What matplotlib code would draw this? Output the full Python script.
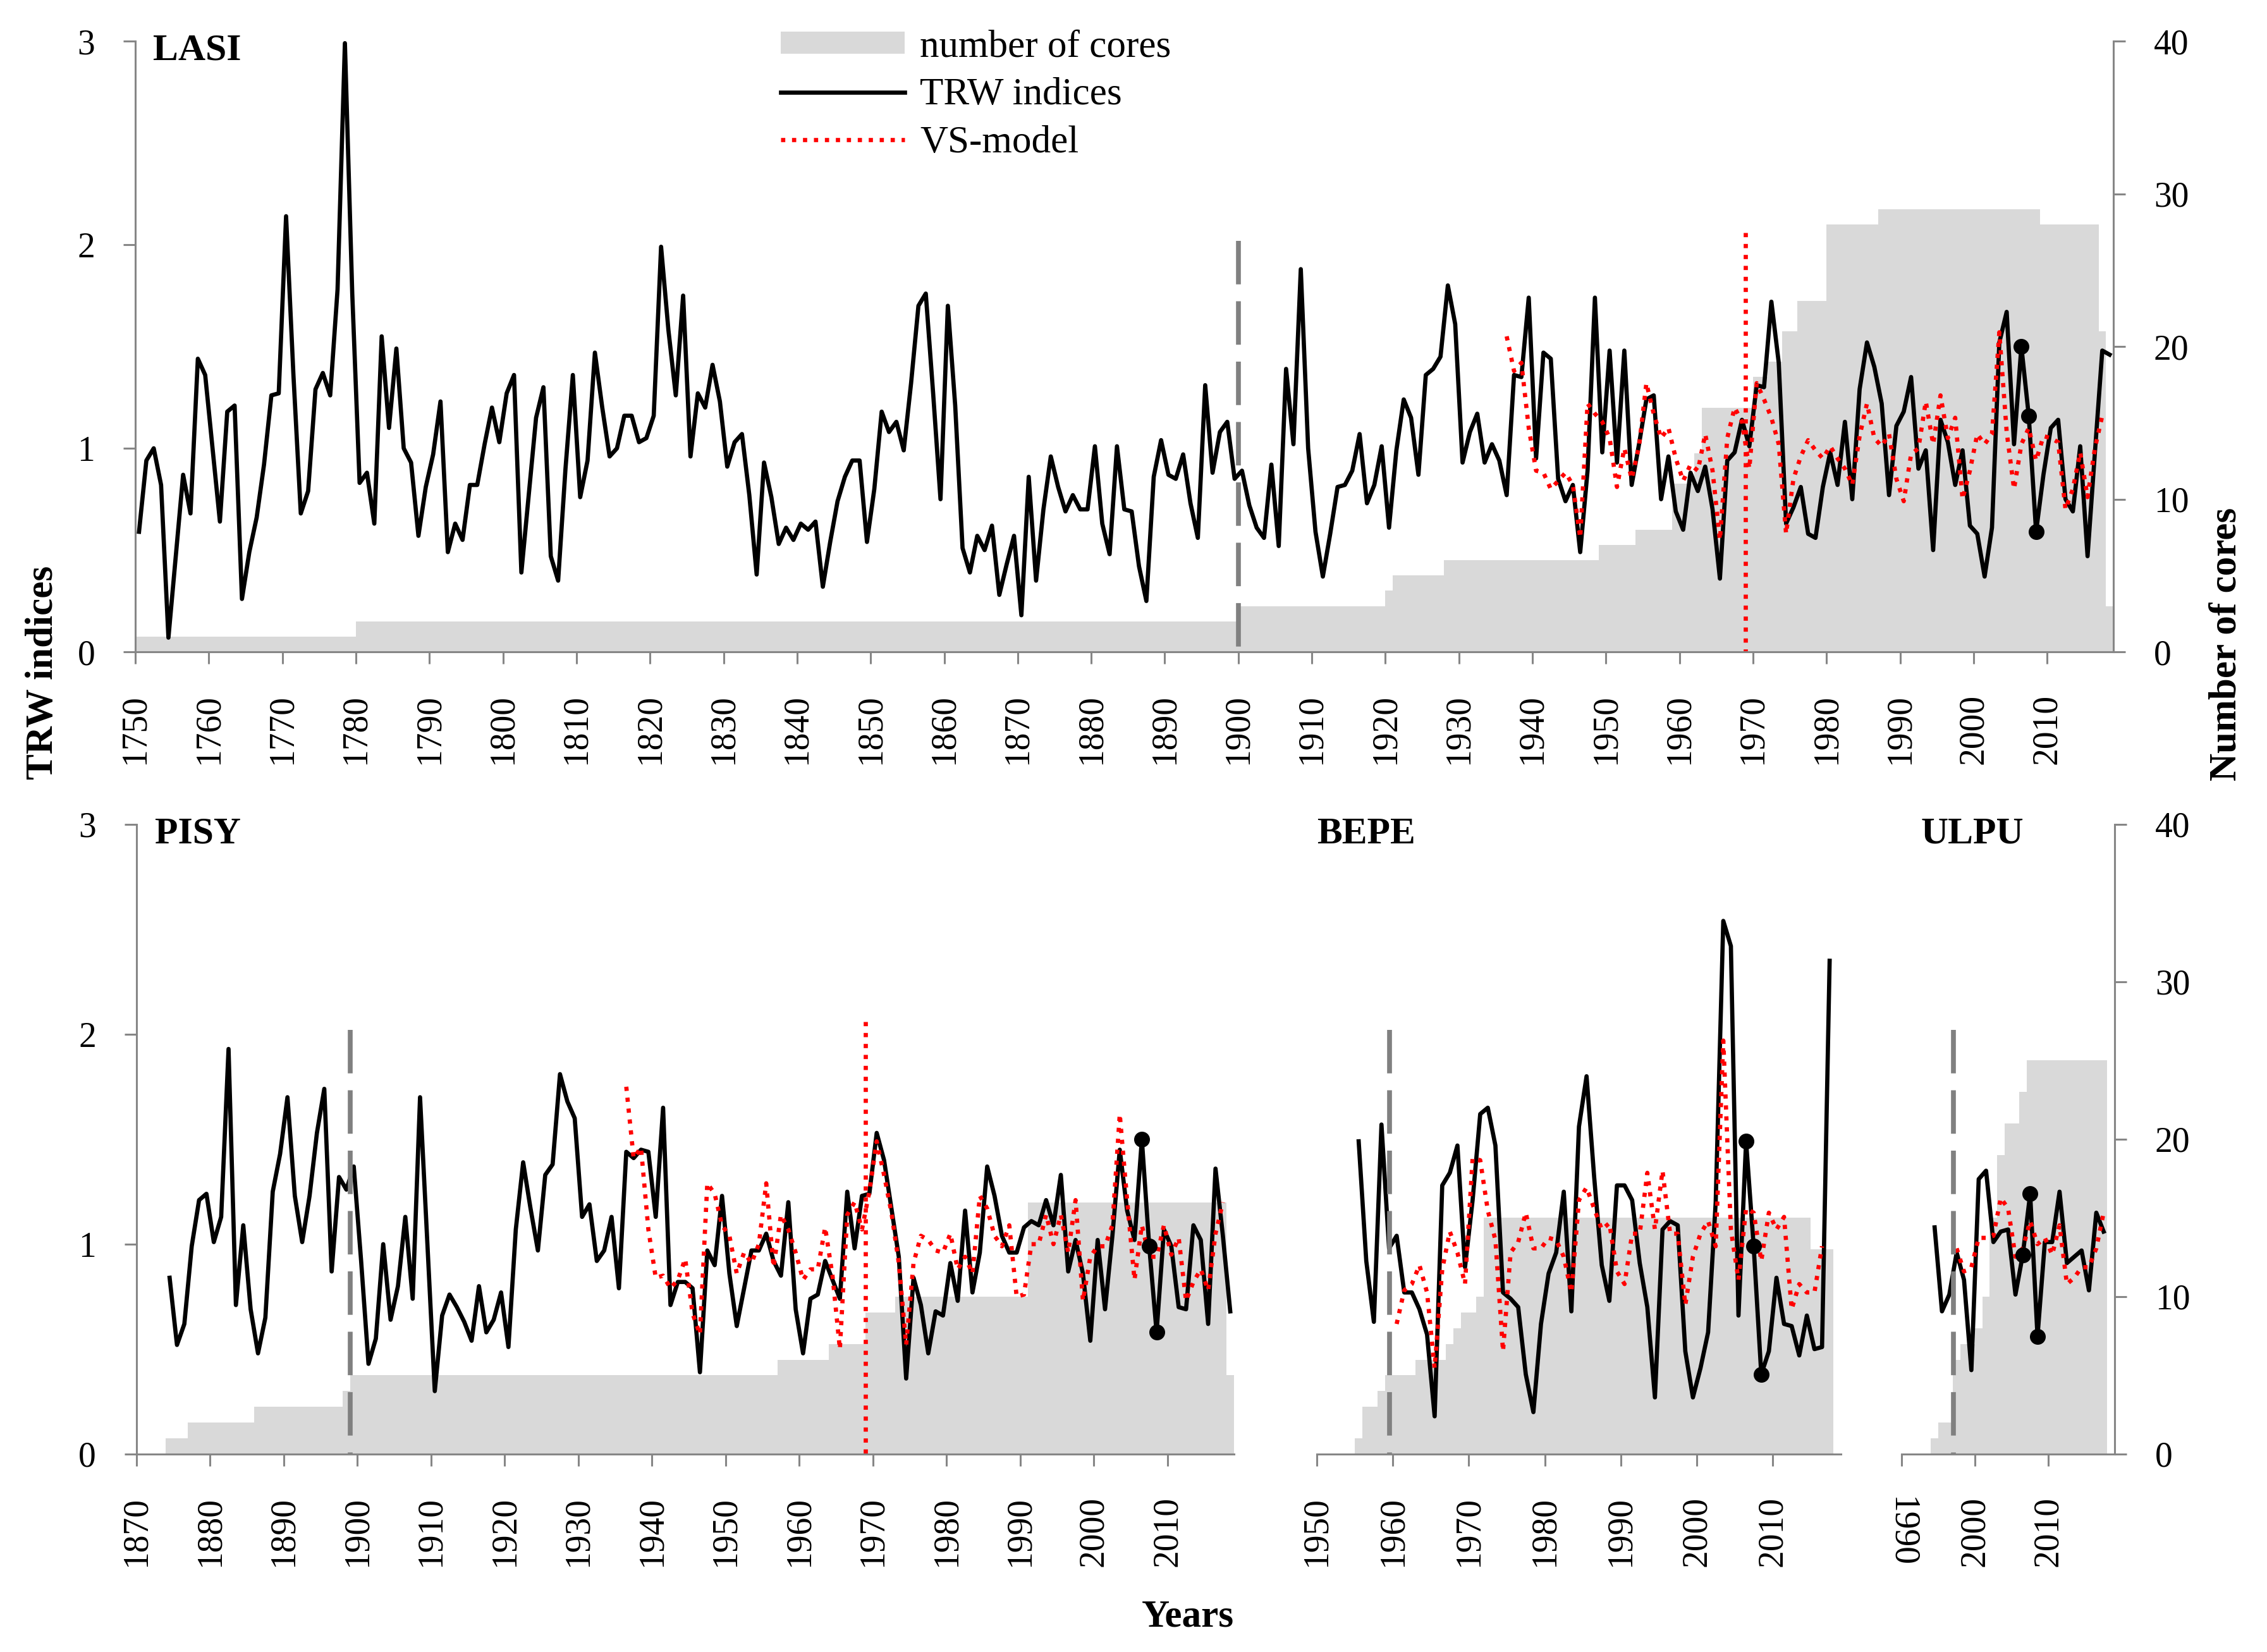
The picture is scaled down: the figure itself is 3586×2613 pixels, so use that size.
import numpy as np
import matplotlib.pyplot as plt
from matplotlib.patches import Patch
from matplotlib.lines import Line2D

plt.rcParams['font.family'] = ['Liberation Serif', 'DejaVu Serif']

# ---- LASI ----
lasi_years = np.arange(1750, 2019)
lasi_trw = [
    0.59, 0.94, 1.00, 0.82, 0.07, 0.47, 0.87, 0.68, 1.44, 1.36,
    1.00, 0.64, 1.18, 1.21, 0.26, 0.49, 0.66, 0.92, 1.26, 1.27,
    2.14, 1.36, 0.68, 0.79, 1.29, 1.37, 1.26, 1.78, 2.99, 1.76,
    0.83, 0.88, 0.63, 1.55, 1.10, 1.49, 1.00, 0.93, 0.57, 0.81,
    0.97, 1.23, 0.49, 0.63, 0.55, 0.82, 0.82, 1.02, 1.20, 1.03,
    1.27, 1.36, 0.39, 0.77, 1.15, 1.30, 0.47, 0.35, 0.90, 1.36,
    0.76, 0.94, 1.47, 1.20, 0.96, 1.00, 1.16, 1.16, 1.03, 1.05,
    1.16, 1.99, 1.58, 1.26, 1.75, 0.96, 1.27, 1.20, 1.41, 1.23,
    0.91, 1.03, 1.07, 0.77, 0.38, 0.93, 0.76, 0.53, 0.61, 0.55,
    0.63, 0.60, 0.64, 0.32, 0.54, 0.74, 0.86, 0.94, 0.94, 0.54,
    0.80, 1.18, 1.08, 1.13, 0.99, 1.32, 1.70, 1.76, 1.27, 0.75,
    1.70, 1.21, 0.51, 0.39, 0.57, 0.50, 0.62, 0.28, 0.43, 0.57,
    0.18, 0.86, 0.35, 0.70, 0.96, 0.81, 0.69, 0.77, 0.70, 0.70,
    1.01, 0.63, 0.48, 1.01, 0.70, 0.69, 0.42, 0.25, 0.86, 1.04,
    0.87, 0.85, 0.97, 0.73, 0.56, 1.31, 0.88, 1.08, 1.13, 0.85,
    0.89, 0.72, 0.61, 0.56, 0.92, 0.52, 1.39, 1.02, 1.88, 1.00,
    0.59, 0.37, 0.58, 0.81, 0.82, 0.89, 1.07, 0.73, 0.82, 1.01,
    0.61, 0.99, 1.24, 1.15, 0.87, 1.36, 1.39, 1.45, 1.80, 1.61,
    0.93, 1.08, 1.17, 0.93, 1.02, 0.94, 0.77, 1.36, 1.35, 1.74,
    0.95, 1.47, 1.44, 0.85, 0.74, 0.82, 0.49, 0.89, 1.74, 0.98,
    1.48, 0.93, 1.48, 0.82, 1.02, 1.24, 1.26, 0.75, 0.96, 0.69,
    0.60, 0.88, 0.79, 0.91, 0.70, 0.36, 0.94, 0.98, 1.14, 1.01,
    1.31, 1.30, 1.72, 1.42, 0.63, 0.71, 0.81, 0.58, 0.56, 0.81,
    0.98, 0.82, 1.13, 0.75, 1.29, 1.52, 1.40, 1.22, 0.77, 1.11,
    1.18, 1.35, 0.90, 0.99, 0.50, 1.14, 1.03, 0.82, 0.99, 0.62,
    0.58, 0.37, 0.61, 1.52, 1.67, 1.02, 1.50, 1.16, 0.59, 0.87,
    1.10, 1.14, 0.75, 0.69, 1.01, 0.47, 0.98, 1.48, 1.46]
lasi_vs_years = np.arange(1936, 2018)
lasi_vs = [
    1.55, 1.38, 1.42, 1.10,
    0.89, 0.88, 0.80, 0.84, 0.88, 0.82, 0.56, 1.22, 1.17, 1.13,
    1.05, 0.81, 1.00, 0.85, 1.01, 1.32, 1.17, 1.05, 1.10, 0.95,
    0.84, 0.92, 0.89, 1.07, 0.89, 0.55, 1.05, 1.20, 1.13, 0.90,
    1.32, 1.24, 1.15, 1.02, 0.58, 0.85, 0.96, 1.04, 0.99, 0.95,
    1.01, 0.95, 0.90, 0.82, 1.06, 1.22, 1.05, 1.01, 1.07, 0.85,
    0.74, 0.97, 1.00, 1.23, 1.02, 1.26, 1.05, 1.15, 0.75, 0.89,
    1.07, 1.02, 1.07, 1.57, 1.08, 0.80, 1.02, 1.10, 0.94, 1.06,
    1.05, 1.03, 0.70, 0.80, 0.98, 0.76, 1.00, 1.16]
lasi_core_edges = [1750, 1780, 1900, 1920, 1921, 1928, 1949, 1954, 1959, 1962, 1963,
                   1970, 1972, 1974, 1976, 1980, 1987, 2009, 2017, 2018, 2019]
lasi_cores = [1, 2, 3, 4, 5, 6, 7, 8, 11, 13, 16, 18, 19, 21, 23, 28, 29, 28, 21, 3]

# ---- PISY ----
pisy_years = np.arange(1874, 2019)
pisy_trw = [
    0.84, 0.52, 0.62, 0.99, 1.21, 1.24,
    1.01, 1.13, 1.93, 0.71, 1.09, 0.69, 0.48, 0.65, 1.25, 1.43,
    1.70, 1.23, 1.01, 1.23, 1.53, 1.74, 0.87, 1.32, 1.26, 1.37,
    0.92, 0.43, 0.55, 1.00, 0.64, 0.80, 1.13, 0.74, 1.70, 1.00,
    0.30, 0.66, 0.76, 0.70, 0.63, 0.54, 0.80, 0.58, 0.64, 0.77,
    0.51, 1.07, 1.39, 1.17, 0.97, 1.33, 1.38, 1.81, 1.68, 1.60,
    1.13, 1.19, 0.92, 0.97, 1.13, 0.79, 1.44, 1.41, 1.45, 1.44,
    1.13, 1.65, 0.71, 0.82, 0.82, 0.79, 0.39, 0.97, 0.90, 1.23,
    0.86, 0.61, 0.79, 0.97, 0.97, 1.05, 0.92, 0.85, 1.20, 0.69,
    0.48, 0.74, 0.76, 0.92, 0.83, 0.74, 1.25, 0.98, 1.23, 1.24,
    1.53, 1.40, 1.17, 0.94, 0.36, 0.84, 0.71, 0.48, 0.68, 0.66,
    0.91, 0.73, 1.16, 0.77, 0.96, 1.37, 1.23, 1.04, 0.96, 0.96,
    1.08, 1.11, 1.09, 1.21, 1.09, 1.33, 0.87, 1.02, 0.86, 0.54,
    1.02, 0.69, 1.04, 1.45, 1.16, 1.02, 1.50, 0.99, 0.58, 1.07,
    0.99, 0.70, 0.69, 1.09, 1.02, 0.62, 1.36, 1.04, 0.68]
pisy_vs_years = np.arange(1936, 2018)
pisy_vs = [
    1.75, 1.41, 1.46, 1.07,
    0.84, 0.85, 0.79, 0.83, 0.93, 0.67, 0.57, 1.29, 1.24, 1.09,
    1.04, 0.86, 0.96, 0.91, 1.00, 1.29, 0.89, 1.14, 1.07, 0.96,
    0.83, 0.88, 0.88, 1.08, 0.85, 0.50, 1.14, 1.20, 1.07, 1.25,
    1.49, 1.33, 1.15, 0.91, 0.52, 0.91, 1.04, 1.02, 0.97, 0.96,
    1.05, 0.88, 0.94, 0.86, 1.23, 1.17, 1.04, 0.99, 1.09, 0.75,
    0.76, 1.00, 1.00, 1.14, 1.00, 1.14, 0.96, 1.21, 0.73, 0.94,
    0.99, 0.99, 1.09, 1.62, 1.21, 0.83, 1.09, 0.94, 0.94, 1.09,
    0.95, 1.03, 0.73, 0.82, 0.88, 0.78, 1.05, 1.20]
pisy_core_edges = [1874, 1877, 1886, 1898, 1899, 1957, 1964, 1969, 1973, 1991, 2018, 2019]
pisy_cores = [1, 2, 3, 4, 5, 6, 7, 9, 10, 16, 5]

# ---- BEPE ----
bepe_years = np.arange(1955, 2018)
bepe_trw = [
    1.49, 0.92, 0.63, 1.57, 0.98,
    1.04, 0.77, 0.77, 0.69, 0.57, 0.18, 1.28, 1.34, 1.47, 0.89,
    1.21, 1.62, 1.65, 1.47, 0.77, 0.74, 0.70, 0.38, 0.20, 0.62,
    0.86, 0.96, 1.25, 0.68, 1.56, 1.80, 1.32, 0.90, 0.73, 1.28,
    1.28, 1.21, 0.91, 0.70, 0.27, 1.07, 1.11, 1.09, 0.49, 0.27,
    0.41, 0.58, 1.20, 2.54, 2.42, 0.66, 1.49, 0.99, 0.38, 0.49,
    0.84, 0.62, 0.61, 0.47, 0.66, 0.50, 0.51, 2.35]
bepe_vs_years = np.arange(1960, 2017)
bepe_vs = [
    0.62, 0.78, 0.81, 0.90, 0.77, 0.41, 0.88, 1.06, 0.96, 0.81,
    1.41, 1.40, 1.16, 1.02, 0.49, 0.96, 1.01, 1.15, 0.98, 0.98,
    1.03, 1.02, 0.94, 0.77, 1.21, 1.27, 1.17, 1.07, 1.10, 0.87,
    0.81, 1.05, 1.05, 1.34, 1.07, 1.35, 1.05, 1.05, 0.71, 0.94,
    1.05, 1.11, 0.99, 1.97, 1.07, 0.83, 1.17, 1.15, 0.92, 1.15,
    1.07, 1.13, 0.69, 0.81, 0.77, 0.77, 0.99]
bepe_core_edges = [1955, 1956, 1958, 1959, 1963, 1967, 1968, 1969, 1971, 1972, 2015, 2018]
bepe_cores = [1, 3, 4, 5, 6, 7, 8, 9, 10, 15, 13]

# ---- ULPU ----
ulpu_years = np.arange(1994, 2018)
ulpu_trw = [1.08, 0.68, 0.76, 0.96, 0.83, 0.40, 1.31, 1.35, 1.01, 1.06, 1.07, 0.76,
            0.95, 1.24, 0.56, 1.01, 1.01, 1.25, 0.91, 0.94, 0.97, 0.78, 1.15, 1.06]
ulpu_vs_years = np.arange(1997, 2018)
ulpu_vs = [0.98, 0.87, 0.89, 1.03, 1.03, 1.04, 1.22, 1.17, 0.94, 0.98, 1.11,
           1.00, 1.03, 0.95, 1.09, 0.81, 0.84, 0.89, 0.89, 0.98, 1.15]
ulpu_core_edges = [1994, 1995, 1997, 1998, 2000, 2001, 2002, 2003, 2004, 2006, 2007, 2018]
ulpu_cores = [1, 2, 6, 7, 8, 10, 15, 19, 21, 23, 25]

dot_years = np.array([2006, 2007, 2008])

GREY = '#d9d9d9'
AXC = '#868686'
LW = 4.8
DOTS = (0, (1, 1.6))
TICK_FS = 40

fig = plt.figure(figsize=(35.86, 26.13), dpi=100)


def panel(rect, years, trw, vs_years, vs, edges, cores, xlim, xticks,
          dash_x=None, red_x=None, left=False, right=False, name='', name_x=0.01):
    ax = fig.add_axes(rect)
    axr = ax.twinx()
    ax.set_zorder(axr.get_zorder() + 1)
    ax.patch.set_visible(False)

    axr.stairs(cores, edges, fill=True, color=GREY, lw=0)
    axr.set_ylim(0, 40)

    years = np.asarray(years)
    trw = np.asarray(trw)
    ax.plot(years + 0.5, trw, color='k', lw=LW)
    ax.plot(np.asarray(vs_years) + 0.5, vs, color='red', lw=LW, ls=DOTS)
    idx = dot_years - years[0]
    ax.plot(dot_years + 0.5, trw[idx], 'o', color='k', ms=17)
    # dashes run from the top down, as in the original
    if dash_x is not None:
        ax.vlines(dash_x, 2.02, 0, color='#808080', lw=5.5, linestyles=[(0, (9, 3.5))])
    if red_x is not None:
        ax.vlines(red_x, 2.06, 0, color='red', lw=LW, linestyles=[DOTS])

    ax.set_xlim(*xlim)
    ax.set_ylim(0, 3)
    ax.set_xticks(xticks)
    ax.tick_params(axis='x', direction='out', length=14, width=2.2, color=AXC,
                   pad=34, labelsize=TICK_FS, labelrotation=90)

    for s in ['top', 'right']:
        ax.spines[s].set_visible(False)
    for s in ['top', 'left', 'bottom']:
        axr.spines[s].set_visible(False)
    ax.spines['bottom'].set_color(AXC)
    ax.spines['bottom'].set_linewidth(2.2)

    if left:
        ax.set_yticks([0, 1, 2, 3])
        ax.spines['left'].set_color(AXC)
        ax.spines['left'].set_linewidth(2.2)
        ax.tick_params(axis='y', direction='out', length=14, width=2.2, color=AXC,
                       pad=32, labelsize=TICK_FS)
    else:
        ax.set_yticks([])
        ax.spines['left'].set_visible(False)

    if right:
        axr.set_yticks([0, 10, 20, 30, 40])
        axr.spines['right'].set_color(AXC)
        axr.spines['right'].set_linewidth(2.2)
        axr.tick_params(axis='y', direction='out', length=14, width=2.2, color=AXC,
                        pad=32, labelsize=TICK_FS)
    else:
        axr.set_yticks([])
        axr.spines['right'].set_visible(False)

    ax.text(name_x, 0.984, name, transform=ax.transAxes, fontsize=43,
            fontweight='bold', va='center', ha='left')
    return ax, axr


ax1, ax1r = panel([0.0597, 0.6054, 0.8725, 0.3697], lasi_years, lasi_trw,
                  lasi_vs_years, lasi_vs, lasi_core_edges, lasi_cores,
                  (1750, 2019), np.arange(1750, 2011, 10),
                  dash_x=1900, red_x=1969, left=True, right=True, name='LASI', name_x=0.009)

axp, _ = panel([0.0602, 0.1198, 0.4841, 0.3812], pisy_years, pisy_trw,
               pisy_vs_years, pisy_vs, pisy_core_edges, pisy_cores,
               (1870, 2019), np.arange(1870, 2011, 10),
               dash_x=1899, red_x=1969, left=True, name='PISY', name_x=0.017)

axb, _ = panel([0.5809, 0.1198, 0.2312, 0.3812], bepe_years, bepe_trw,
               bepe_vs_years, bepe_vs, bepe_core_edges, bepe_cores,
               (1950, 2019), np.arange(1950, 2011, 10),
               dash_x=1959.6, name='BEPE', name_x=0.0)

axu, _ = panel([0.8388, 0.1198, 0.0940, 0.3812], ulpu_years, ulpu_trw,
               ulpu_vs_years, ulpu_vs, ulpu_core_edges, ulpu_cores,
               (1990, 2019), [1990, 2000, 2010],
               dash_x=1997.1, right=True, name='ULPU', name_x=0.092)
axu.get_xticklabels()[0].set_rotation(270)

handles = [Patch(facecolor=GREY, edgecolor='none'),
           Line2D([], [], color='k', lw=LW),
           Line2D([], [], color='red', lw=LW, ls=DOTS)]
ax1.legend(handles, ['number of cores', 'TRW indices', 'VS-model'],
           loc='upper left', bbox_to_anchor=(0.3444, 0.982),
           bbox_transform=fig.transFigure, frameon=False, fontsize=44,
           handlelength=3.2, handleheight=0.5, handletextpad=0.4,
           labelspacing=0.33, borderpad=0, borderaxespad=0)

fig.text(0.019, 0.593, 'TRW indices', rotation=90, ha='center', va='center',
         fontsize=44, fontweight='bold')
fig.text(0.982, 0.610, 'Number of cores', rotation=90, ha='center', va='center',
         fontsize=44, fontweight='bold')
fig.text(0.524, 0.0214, 'Years', ha='center', va='center', fontsize=44, fontweight='bold')

fig.savefig('out.png', dpi=100)
